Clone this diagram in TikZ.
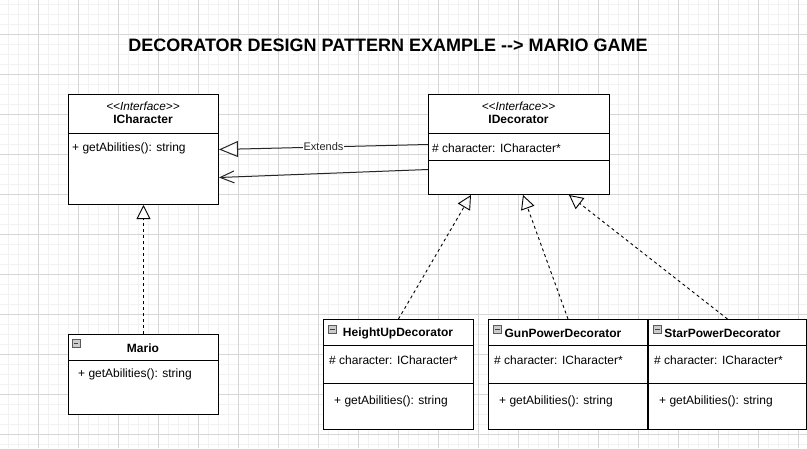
\documentclass[tikz,border=0pt]{standalone}
\usepackage{fontspec}
\setmainfont{Liberation Sans}[Ligatures=TeXOff]
\usetikzlibrary{arrows.meta}

\begin{document}
\begin{tikzpicture}[x=1pt,y=-1pt,
		every node/.style={inner sep=0pt},
		minorgrid/.style={black!5,line width=1pt},
		majorgrid/.style={black!16,line width=0.8pt},
		classbox/.style={draw=black,fill=white,line width=1pt,anchor=north west},
		sepline/.style={black,line width=1pt},
		member/.style={anchor=west,font=\fontsize{12}{14}\selectfont},
		stereo/.style={font=\itshape\fontsize{11.8}{13}\selectfont},
		cname/.style={font=\bfseries\fontsize{12}{14}\selectfont},
		icon/.style={draw=black!65,fill=black!20,line width=0.6pt,minimum size=8pt},
		realize/.style={black,line width=0.9pt,dash pattern=on 3pt off 3pt,-{Triangle[open,length=14pt,width=14pt,line width=0.9pt]}},
		extends/.style={black!85,line width=1pt,-{Triangle[open,length=19pt,width=16pt,line width=1pt]}},
		assoc/.style={black!85,line width=1pt,-{Straight Barb[length=14pt,width=12pt,line width=1pt]}}]
	\useasboundingbox (0,0) rectangle (807,448);
	\fill[white] (0,0) rectangle (807,448);
	\foreach \x in {8,18,...,808} \draw[minorgrid] (\x,0) -- (\x,448);
	\foreach \y in {4,14,...,444} \draw[minorgrid] (0,\y) -- (807,\y);
	\foreach \x in {38,78,...,798} \draw[majorgrid] (\x,0) -- (\x,448);
	\foreach \y in {34,74,...,434} \draw[majorgrid] (0,\y) -- (807,\y);

	\node[font=\bfseries\fontsize{18}{22}\selectfont] (title) at (388,45) {DECORATOR DESIGN PATTERN EXAMPLE -\kern0pt-> MARIO GAME};

	\node[classbox,minimum width=150pt,minimum height=110pt] (ichar) at (68,94) {};
	\draw[sepline] (ichar.west |- 0,133) -- (ichar.east |- 0,133);
	\node[stereo] (icharst) at (143,106) {<\kern0pt<Interface>\kern0pt>};
	\node[cname] (icharnm) at (143,119) {ICharacter};
	\node[member] (icharop) at (72,148) {+ getAbilities(): string};

	\node[classbox,minimum width=181pt,minimum height=100pt] (idec) at (428,94) {};
	\draw[sepline] (idec.west |- 0,133) -- (idec.east |- 0,133);
	\draw[sepline] (idec.west |- 0,160) -- (idec.east |- 0,160);
	\node[stereo] (idecst) at (518.5,106) {<\kern0pt<Interface>\kern0pt>};
	\node[cname] (idecnm) at (518.5,119) {IDecorator};
	\node[member] (idecat) at (432,148) {\# character: ICharacter*};

	\node[classbox,minimum width=150pt,minimum height=80pt] (mario) at (68,334) {};
	\draw[sepline] (mario.west |- 0,360) -- (mario.east |- 0,360);
	\node[icon] (marioicon) at (76,343) {};
	\draw[black!75,line width=0.8pt] ([xshift=2pt]marioicon.west) -- ([xshift=-2pt]marioicon.east);
	\node[cname] (marionm) at (143,348) {Mario};
	\node[member] (marioop) at (78,374) {+ getAbilities(): string};

	\foreach \nm/\lbl/\x/\w/\dx in {hud/HeightUpDecorator/323/150/0,gpd/GunPowerDecorator/488/159/-4.5,spd/StarPowerDecorator/648/158/-4.5}{
		\node[classbox,minimum width=\w pt,minimum height=110pt] (\nm) at (\x,319) {};
		\draw[sepline] (\nm.west |- 0,345) -- (\nm.east |- 0,345);
		\draw[sepline] (\nm.west |- 0,383) -- (\nm.east |- 0,383);
		\node[icon] (\nm icon) at (\x+9.5,329.5) {};
		\draw[black!75,line width=0.8pt] ([xshift=2pt]\nm icon.west) -- ([xshift=-2pt]\nm icon.east);
		\node[cname] (\nm name) at (\x+\w/2+\dx,333) {\lbl};
		\node[member] (\nm at) at (\x+6,360) {\# character: ICharacter*};
		\node[member] (\nm op) at (\x+11,401) {+ getAbilities(): string};
	}

	\draw[extends] (idec.west) -- node[fill=white,inner sep=1pt,font=\fontsize{11}{13}\selectfont] (extlbl) {Extends} (ichar.east);
	\draw[assoc] ([yshift=-25pt]idec.west) -- ([yshift=-28pt]ichar.east);
	\draw[realize] (mario.north) -- (ichar.south);
	\draw[realize] (hud.north) -- ([xshift=-48pt]idec.south);
	\draw[realize] (gpd.north) -- ([xshift=4pt]idec.south);
	\draw[realize] (spd.north) -- ([xshift=50pt]idec.south);
\end{tikzpicture}
\end{document}
